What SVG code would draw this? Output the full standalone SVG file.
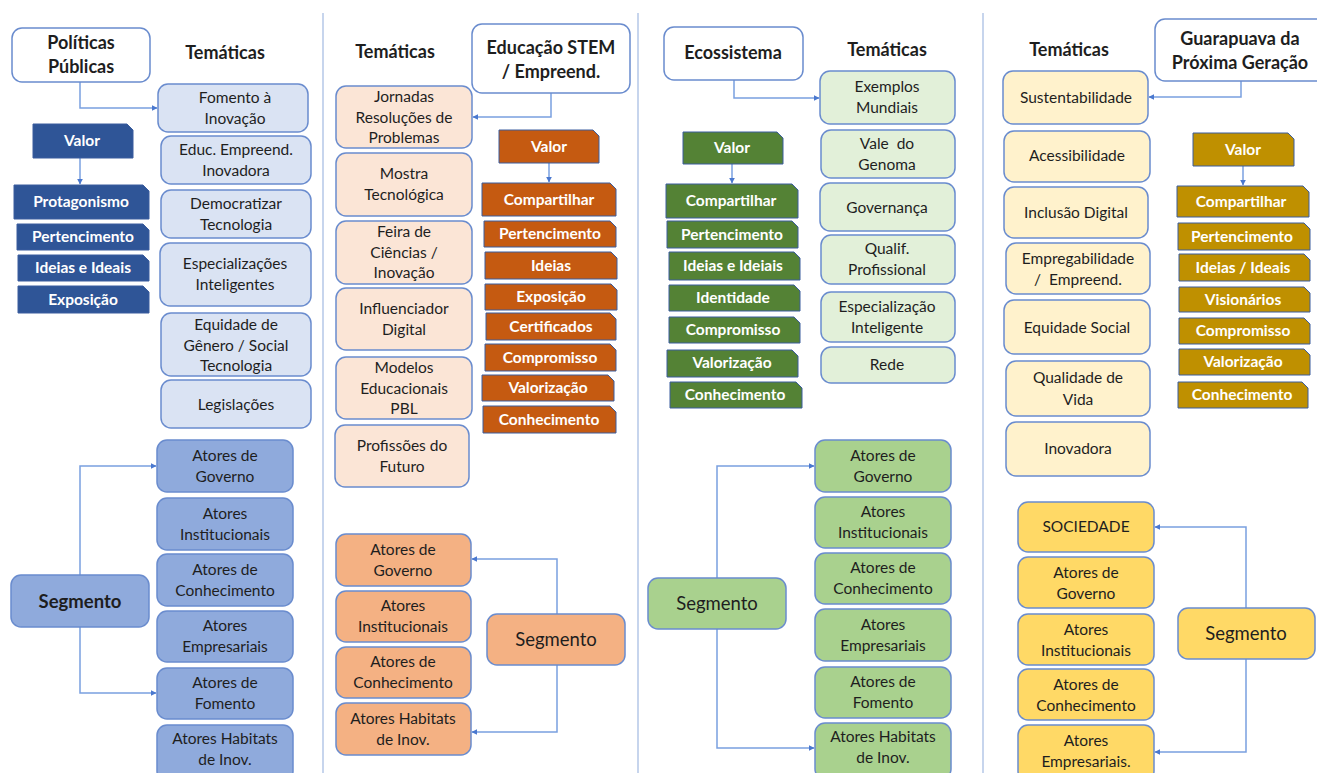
<svg xmlns="http://www.w3.org/2000/svg" width="1317" height="773" viewBox="0 0 1317 773">
<defs>
<marker id="ah" viewBox="0 0 10 10" refX="9" refY="5" markerWidth="6" markerHeight="6" orient="auto" markerUnits="userSpaceOnUse"><path d="M0,0 L10,5 L0,10 z" fill="#4a78cf"/></marker>
<style>
text{font-family:Lato,"Open Sans","Liberation Sans",sans-serif;text-anchor:middle;fill:#1e1e1e}
.b{rx:10px;stroke:#6a8cce;stroke-width:1.5}
.w{fill:#fff}
.t1{fill:#dae3f3}.s1{fill:#8faadc}.v1{fill:#2f5597}
.t2{fill:#fbe5d6}.s2{fill:#f4b183}.v2{fill:#c55a11}
.t3{fill:#e2f0d9}.s3{fill:#a9d18e}.v3{fill:#548235}
.t4{fill:#fff2cc}.s4{fill:#ffd966}.v4{fill:#bf9000}
.v{stroke:#3b5d9e;stroke-width:1}
.n{font-size:15.5px}
.h{font-size:18px;font-weight:700}
.vt{font-size:15.5px;font-weight:700;fill:#fff}
.sg{font-size:18.5px}
.sgb{font-size:18.5px;font-weight:700}
.sep{stroke:#b4c7e7;stroke-width:1.5;fill:none}
.c{stroke:#7aa0e0;stroke-width:1.5;fill:none}
</style>
</defs>
<rect width="1317" height="773" fill="#fff"/>
<g id="separators">
<line class="sep" x1="323" y1="13" x2="323" y2="773"/>
<line class="sep" x1="638" y1="13" x2="638" y2="773"/>
<line class="sep" x1="983" y1="13" x2="983" y2="773"/>
</g>
<g id="connectors">
<path class="c" d="M80,82 V108 H157" marker-end="url(#ah)"/>
<path class="c" d="M80,158 V184" marker-end="url(#ah)"/>
<path class="c" d="M80,575 V466 H156" marker-end="url(#ah)"/>
<path class="c" d="M80,627 V693 H156" marker-end="url(#ah)"/>
<path class="c" d="M551,93 V117 H473" marker-end="url(#ah)"/>
<path class="c" d="M549,163 V182" marker-end="url(#ah)"/>
<path class="c" d="M557,614 V559 H472" marker-end="url(#ah)"/>
<path class="c" d="M557,665 V732 H472" marker-end="url(#ah)"/>
<path class="c" d="M734,80 V98 H819" marker-end="url(#ah)"/>
<path class="c" d="M732,164 V183" marker-end="url(#ah)"/>
<path class="c" d="M717,578 V466 H814" marker-end="url(#ah)"/>
<path class="c" d="M717,629 V748 H814" marker-end="url(#ah)"/>
<path class="c" d="M1241,81 V97 H1149" marker-end="url(#ah)"/>
<path class="c" d="M1243,166 V185" marker-end="url(#ah)"/>
<path class="c" d="M1246,608 V527 H1155" marker-end="url(#ah)"/>
<path class="c" d="M1246,659 V752 H1155" marker-end="url(#ah)"/>
</g>
<!-- Column 1 -->
<g id="politicas"><rect class="b w" x="12" y="28" width="138" height="54"/><text class="h" x="81" y="49">Políticas</text><text class="h" x="81" y="73">Públicas</text></g>
<g id="tematicas1"><text class="h" x="225" y="59">Temáticas</text></g>
<g id="c1t1"><rect class="b t1" x="158" y="84" width="150" height="48"/><text class="n" x="235" y="103">Fomento à</text><text class="n" x="235" y="124">Inovação</text></g>
<g id="c1t2"><rect class="b t1" x="161" y="136" width="150" height="48"/><text class="n" x="236" y="155">Educ. Empreend.</text><text class="n" x="236" y="176">Inovadora</text></g>
<g id="c1t3"><rect class="b t1" x="161" y="190" width="150" height="48"/><text class="n" x="236" y="209">Democratizar</text><text class="n" x="236" y="230">Tecnologia</text></g>
<g id="c1t4"><rect class="b t1" x="160" y="243" width="151" height="63"/><text class="n" x="235" y="269">Especializações</text><text class="n" x="235" y="290">Inteligentes</text></g>
<g id="c1t5"><rect class="b t1" x="161" y="313" width="150" height="63"/><text class="n" x="236" y="330">Equidade de</text><text class="n" x="236" y="351">Gênero / Social</text><text class="n" x="236" y="371">Tecnologia</text></g>
<g id="c1t6"><rect class="b t1" x="161" y="380" width="150" height="48"/><text class="n" x="236" y="410">Legislações</text></g>
<g id="c1valor"><polygon class="v v1" points="33,124 127,124 133,130 133,158 33,158"/><text class="vt" x="82" y="146">Valor</text></g>
<g id="c1v1"><polygon class="v v1" points="14,185 143,185 149,191 149,219 14,219"/><text class="vt" x="81" y="207">Protagonismo</text></g>
<g id="c1v2"><polygon class="v v1" points="17,224 143,224 149,230 149,250 17,250"/><text class="vt" x="83" y="242">Pertencimento</text></g>
<g id="c1v3"><polygon class="v v1" points="18,255 143,255 149,261 149,281 18,281"/><text class="vt" x="83" y="273">Ideias e Ideais</text></g>
<g id="c1v4"><polygon class="v v1" points="18,286 143,286 149,292 149,313 18,313"/><text class="vt" x="83" y="305">Exposição</text></g>
<g id="c1seg"><rect class="b s1" x="11" y="575" width="138" height="52"/><text class="sgb" x="80" y="608">Segmento</text></g>
<g id="c1s1"><rect class="b s1" x="157" y="440" width="136" height="52"/><text class="n" x="225" y="461">Atores de</text><text class="n" x="225" y="482">Governo</text></g>
<g id="c1s2"><rect class="b s1" x="157" y="498" width="136" height="52"/><text class="n" x="225" y="519">Atores</text><text class="n" x="225" y="540">Institucionais</text></g>
<g id="c1s3"><rect class="b s1" x="157" y="554" width="136" height="52"/><text class="n" x="225" y="575">Atores de</text><text class="n" x="225" y="596">Conhecimento</text></g>
<g id="c1s4"><rect class="b s1" x="157" y="611" width="136" height="51"/><text class="n" x="225" y="631">Atores</text><text class="n" x="225" y="652">Empresariais</text></g>
<g id="c1s5"><rect class="b s1" x="157" y="668" width="136" height="51"/><text class="n" x="225" y="688">Atores de</text><text class="n" x="225" y="709">Fomento</text></g>
<g id="c1s6"><rect class="b s1" x="157" y="725" width="136" height="56"/><text class="n" x="225" y="744">Atores Habitats</text><text class="n" x="225" y="765">de Inov.</text></g>
<!-- Column 2 -->
<g id="tematicas2"><text class="h" x="395" y="58">Temáticas</text></g>
<g id="educacao"><rect class="b w" x="472" y="24" width="158" height="69"/><text class="h" x="551" y="54">Educação STEM</text><text class="h" x="551" y="78">/ Empreend.</text></g>
<g id="c2t1"><rect class="b t2" x="336" y="86" width="136" height="62"/><text class="n" x="404" y="102">Jornadas</text><text class="n" x="404" y="123">Resoluções de</text><text class="n" x="404" y="143">Problemas</text></g>
<g id="c2t2"><rect class="b t2" x="336" y="153" width="136" height="63"/><text class="n" x="404" y="179">Mostra</text><text class="n" x="404" y="200">Tecnológica</text></g>
<g id="c2t3"><rect class="b t2" x="336" y="221" width="136" height="63"/><text class="n" x="404" y="237">Feira de</text><text class="n" x="404" y="258">Ciências /</text><text class="n" x="404" y="278">Inovação</text></g>
<g id="c2t4"><rect class="b t2" x="336" y="288" width="136" height="62"/><text class="n" x="404" y="314">Influenciador</text><text class="n" x="404" y="335">Digital</text></g>
<g id="c2t5"><rect class="b t2" x="336" y="357" width="136" height="62"/><text class="n" x="404" y="373">Modelos</text><text class="n" x="404" y="394">Educacionais</text><text class="n" x="404" y="414">PBL</text></g>
<g id="c2t6"><rect class="b t2" x="335" y="425" width="134" height="62"/><text class="n" x="402" y="451">Profissões do</text><text class="n" x="402" y="472">Futuro</text></g>
<g id="c2valor"><polygon class="v v2" points="499,130 593,130 599,136 599,163 499,163"/><text class="vt" x="549" y="152">Valor</text></g>
<g id="c2v1"><polygon class="v v2" points="482,183 610,183 616,189 616,216 482,216"/><text class="vt" x="549" y="205">Compartilhar</text></g>
<g id="c2v2"><polygon class="v v2" points="484,221 610,221 616,227 616,247 484,247"/><text class="vt" x="550" y="239">Pertencimento</text></g>
<g id="c2v3"><polygon class="v v2" points="485,252 611,252 617,258 617,279 485,279"/><text class="vt" x="551" y="271">Ideias</text></g>
<g id="c2v4"><polygon class="v v2" points="485,284 611,284 617,290 617,310 485,310"/><text class="vt" x="551" y="302">Exposição</text></g>
<g id="c2v5"><polygon class="v v2" points="486,313 610,313 616,319 616,340 486,340"/><text class="vt" x="551" y="332">Certificados</text></g>
<g id="c2v6"><polygon class="v v2" points="485,344 610,344 616,350 616,371 485,371"/><text class="vt" x="550" y="363">Compromisso</text></g>
<g id="c2v7"><polygon class="v v2" points="482,375 608,375 614,381 614,401 482,401"/><text class="vt" x="548" y="393">Valorização</text></g>
<g id="c2v8"><polygon class="v v2" points="483,406 610,406 616,412 616,433 483,433"/><text class="vt" x="549" y="425">Conhecimento</text></g>
<g id="c2seg"><rect class="b s2" x="487" y="614" width="138" height="51"/><text class="sg" x="556" y="646">Segmento</text></g>
<g id="c2s1"><rect class="b s2" x="336" y="534" width="135" height="52"/><text class="n" x="403" y="555">Atores de</text><text class="n" x="403" y="576">Governo</text></g>
<g id="c2s2"><rect class="b s2" x="336" y="591" width="135" height="51"/><text class="n" x="403" y="611">Atores</text><text class="n" x="403" y="632">Institucionais</text></g>
<g id="c2s3"><rect class="b s2" x="336" y="647" width="135" height="51"/><text class="n" x="403" y="667">Atores de</text><text class="n" x="403" y="688">Conhecimento</text></g>
<g id="c2s4"><rect class="b s2" x="336" y="703" width="135" height="52"/><text class="n" x="403" y="724">Atores Habitats</text><text class="n" x="403" y="745">de Inov.</text></g>
<!-- Column 3 -->
<g id="ecossistema"><rect class="b w" x="664" y="27" width="139" height="53"/><text class="h" x="733" y="59">Ecossistema</text></g>
<g id="tematicas3"><text class="h" x="887" y="56">Temáticas</text></g>
<g id="c3t1"><rect class="b t3" x="820" y="71" width="135" height="53"/><text class="n" x="887" y="92">Exemplos</text><text class="n" x="887" y="113">Mundiais</text></g>
<g id="c3t2"><rect class="b t3" x="821" y="130" width="134" height="48"/><text class="n" x="887" y="149" xml:space="preserve">Vale  do</text><text class="n" x="887" y="170">Genoma</text></g>
<g id="c3t3"><rect class="b t3" x="820" y="183" width="135" height="48"/><text class="n" x="887" y="213">Governança</text></g>
<g id="c3t4"><rect class="b t3" x="821" y="235" width="134" height="49"/><text class="n" x="887" y="254">Qualif.</text><text class="n" x="887" y="275">Profissional</text></g>
<g id="c3t5"><rect class="b t3" x="821" y="292" width="134" height="50"/><text class="n" x="887" y="312">Especialização</text><text class="n" x="887" y="333">Inteligente</text></g>
<g id="c3t6"><rect class="b t3" x="821" y="347" width="134" height="36"/><text class="n" x="887" y="370">Rede</text></g>
<g id="c3valor"><polygon class="v v3" points="683,132 777,132 783,138 783,164 683,164"/><text class="vt" x="732" y="153">Valor</text></g>
<g id="c3v1"><polygon class="v v3" points="666,184 792,184 798,190 798,218 666,218"/><text class="vt" x="731" y="206">Compartilhar</text></g>
<g id="c3v2"><polygon class="v v3" points="667,221 792,221 798,227 798,248 667,248"/><text class="vt" x="732" y="240">Pertencimento</text></g>
<g id="c3v3"><polygon class="v v3" points="669,252 794,252 800,258 800,280 669,280"/><text class="vt" x="733" y="271">Ideias e Ideiais</text></g>
<g id="c3v4"><polygon class="v v3" points="669,285 794,285 800,291 800,311 669,311"/><text class="vt" x="733" y="303">Identidade</text></g>
<g id="c3v5"><polygon class="v v3" points="669,317 794,317 800,323 800,343 669,343"/><text class="vt" x="733" y="335">Compromisso</text></g>
<g id="c3v6"><polygon class="v v3" points="667,350 792,350 798,356 798,377 667,377"/><text class="vt" x="732" y="368">Valorização</text></g>
<g id="c3v7"><polygon class="v v3" points="670,382 796,382 802,388 802,408 670,408"/><text class="vt" x="735" y="400">Conhecimento</text></g>
<g id="c3seg"><rect class="b s3" x="648" y="578" width="138" height="51"/><text class="sg" x="717" y="610">Segmento</text></g>
<g id="c3s1"><rect class="b s3" x="815" y="440" width="136" height="52"/><text class="n" x="883" y="461">Atores de</text><text class="n" x="883" y="482">Governo</text></g>
<g id="c3s2"><rect class="b s3" x="815" y="497" width="136" height="51"/><text class="n" x="883" y="517">Atores</text><text class="n" x="883" y="538">Institucionais</text></g>
<g id="c3s3"><rect class="b s3" x="815" y="553" width="136" height="51"/><text class="n" x="883" y="573">Atores de</text><text class="n" x="883" y="594">Conhecimento</text></g>
<g id="c3s4"><rect class="b s3" x="815" y="609" width="136" height="52"/><text class="n" x="883" y="630">Atores</text><text class="n" x="883" y="651">Empresariais</text></g>
<g id="c3s5"><rect class="b s3" x="815" y="667" width="136" height="51"/><text class="n" x="883" y="687">Atores de</text><text class="n" x="883" y="708">Fomento</text></g>
<g id="c3s6"><rect class="b s3" x="815" y="723" width="136" height="56"/><text class="n" x="883" y="742">Atores Habitats</text><text class="n" x="883" y="763">de Inov.</text></g>
<!-- Column 4 -->
<g id="tematicas4"><text class="h" x="1069" y="56">Temáticas</text></g>
<g id="guarapuava"><rect class="b w" x="1155" y="19" width="172" height="62"/><text class="h" x="1240" y="45">Guarapuava da</text><text class="h" x="1240" y="69">Próxima Geração</text></g>
<g id="c4t1"><rect class="b t4" x="1003" y="71" width="145" height="53"/><text class="n" x="1076" y="103">Sustentabilidade</text></g>
<g id="c4t2"><rect class="b t4" x="1004" y="131" width="146" height="51"/><text class="n" x="1077" y="161">Acessibilidade</text></g>
<g id="c4t3"><rect class="b t4" x="1004" y="187" width="144" height="51"/><text class="n" x="1076" y="218">Inclusão Digital</text></g>
<g id="c4t4"><rect class="b t4" x="1006" y="243" width="144" height="51"/><text class="n" x="1078" y="264">Empregabilidade</text><text class="n" x="1078" y="285" xml:space="preserve">/  Empreend.</text></g>
<g id="c4t5"><rect class="b t4" x="1004" y="300" width="146" height="54"/><text class="n" x="1077" y="333">Equidade Social</text></g>
<g id="c4t6"><rect class="b t4" x="1006" y="361" width="144" height="55"/><text class="n" x="1078" y="383">Qualidade de</text><text class="n" x="1078" y="405">Vida</text></g>
<g id="c4t7"><rect class="b t4" x="1006" y="422" width="144" height="54"/><text class="n" x="1078" y="454">Inovadora</text></g>
<g id="c4valor"><polygon class="v v4" points="1193,133 1288,133 1294,139 1294,166 1193,166"/><text class="vt" x="1243" y="155">Valor</text></g>
<g id="c4v1"><polygon class="v v4" points="1177,186 1303,186 1309,192 1309,217 1177,217"/><text class="vt" x="1241" y="207">Compartilhar</text></g>
<g id="c4v2"><polygon class="v v4" points="1178,223 1304,223 1310,229 1310,250 1178,250"/><text class="vt" x="1242" y="242">Pertencimento</text></g>
<g id="c4v3"><polygon class="v v4" points="1179,254 1304,254 1310,260 1310,281 1179,281"/><text class="vt" x="1243" y="273">Ideias / Ideais</text></g>
<g id="c4v4"><polygon class="v v4" points="1179,287 1304,287 1310,293 1310,312 1179,312"/><text class="vt" x="1243" y="305">Visionários</text></g>
<g id="c4v5"><polygon class="v v4" points="1179,318 1304,318 1310,324 1310,344 1179,344"/><text class="vt" x="1243" y="336">Compromisso</text></g>
<g id="c4v6"><polygon class="v v4" points="1179,349 1304,349 1310,355 1310,375 1179,375"/><text class="vt" x="1243" y="367">Valorização</text></g>
<g id="c4v7"><polygon class="v v4" points="1178,382 1302,382 1308,388 1308,408 1178,408"/><text class="vt" x="1242" y="400">Conhecimento</text></g>
<g id="c4seg"><rect class="b s4" x="1178" y="608" width="137" height="51"/><text class="sg" x="1246" y="640">Segmento</text></g>
<g id="c4s1"><rect class="b s4" x="1018" y="502" width="136" height="50"/><text class="n" x="1086" y="532">SOCIEDADE</text></g>
<g id="c4s2"><rect class="b s4" x="1018" y="557" width="136" height="51"/><text class="n" x="1086" y="578">Atores de</text><text class="n" x="1086" y="599">Governo</text></g>
<g id="c4s3"><rect class="b s4" x="1018" y="614" width="136" height="51"/><text class="n" x="1086" y="635">Atores</text><text class="n" x="1086" y="656">Institucionais</text></g>
<g id="c4s4"><rect class="b s4" x="1018" y="669" width="136" height="51"/><text class="n" x="1086" y="690">Atores de</text><text class="n" x="1086" y="711">Conhecimento</text></g>
<g id="c4s5"><rect class="b s4" x="1018" y="725" width="136" height="56"/><text class="n" x="1086" y="746">Atores</text><text class="n" x="1086" y="767">Empresariais.</text></g>
</svg>
